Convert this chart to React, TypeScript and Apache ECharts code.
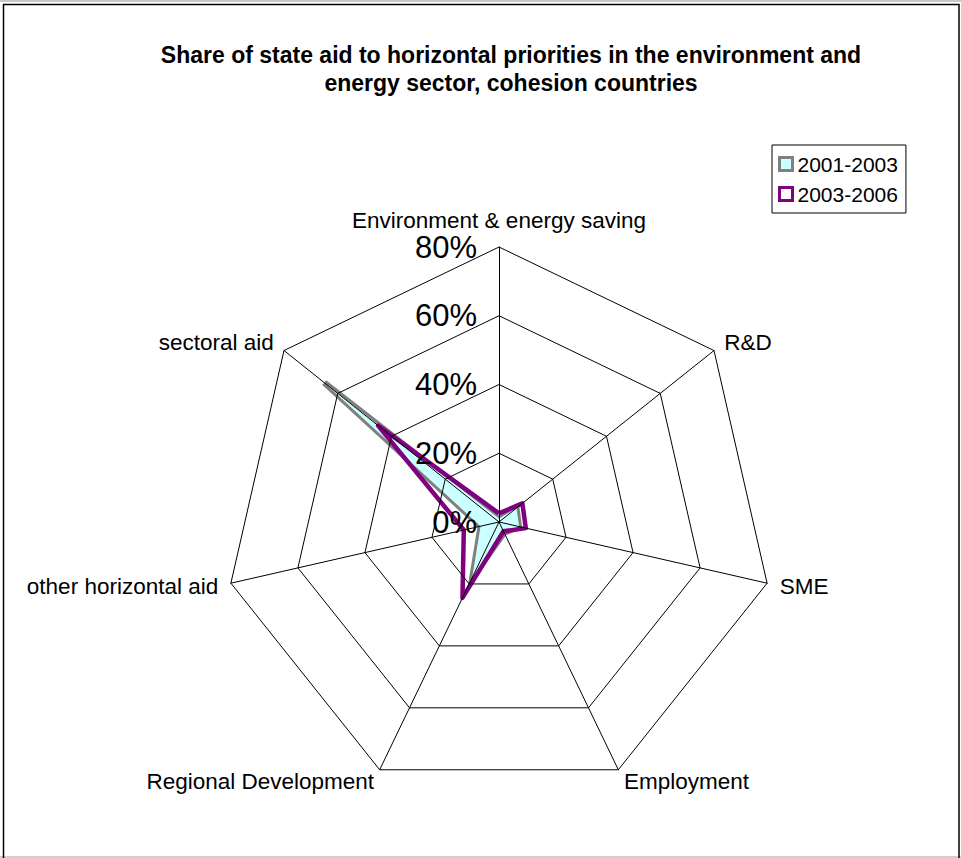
import React, { useEffect, useRef } from "react";
import * as echarts from "echarts";

const TITLE = "Share of state aid to horizontal priorities in the environment and\nenergy sector, cohesion countries";

// Categories in clockwise order starting at the top
const categories = [
  "Environment & energy saving",
  "R&D",
  "SME",
  "Employment",
  "Regional Development",
  "other horizontal aid",
  "sectoral aid",
];

const seriesNames = ["2001-2003", "2003-2006"];
const values2001_2003 = [1, 6.5, 6, 3.5, 18, 5.5, 65];
const values2003_2006 = [2.5, 8.7, 8, 3, 24.5, 10.5, 45];

const axisMax = 80;
const axisSplits = 4;

const FONT = "'Liberation Sans', Arial, sans-serif";

// ECharts lays indicators out counter-clockwise; reorder to get clockwise
const ccwOrder = (arr: any[]) => [arr[0], ...arr.slice(1).reverse()];

export default function App() {
  const ref = useRef<HTMLDivElement>(null);

  useEffect(() => {
    if (!ref.current) return;
    const chart = echarts.init(ref.current, undefined, { renderer: "svg" });

    const indicators = ccwOrder(categories).map((name: string, i: number) => {
      const ind: any = { name, min: 0, max: axisMax };
      if (i === 0) {
        ind.axisLabel = {
          show: true,
          formatter: "{value}%",
          color: "#000",
          fontSize: 31,
          fontFamily: FONT,
          margin: 22,
        };
      }
      return ind;
    });

    chart.setOption({
      animation: false,
      backgroundColor: "#fff",
      title: {
        text: TITLE,
        left: 506,
        top: 36,
        textAlign: "center",
        textStyle: {
          fontFamily: FONT,
          fontWeight: "bold",
          fontSize: 23,
          lineHeight: 28,
          color: "#000",
        },
      },
      legend: {
        orient: "vertical",
        left: 772,
        top: 145,
        padding: [8, 8, 8, 6],
        itemGap: 8,
        itemWidth: 13,
        itemHeight: 13,
        icon: "rect",
        backgroundColor: "#fff",
        borderColor: "#000",
        borderWidth: 1,
        borderRadius: 0,
        textStyle: { fontFamily: FONT, fontSize: 21, lineHeight: 22, color: "#000" },
        data: [
          {
            name: seriesNames[0],
            itemStyle: { color: "#CCFFFF", borderColor: "#808080", borderWidth: 3 },
          },
          {
            name: seriesNames[1],
            itemStyle: { color: "#FFFFFF", borderColor: "#800080", borderWidth: 3 },
          },
        ],
      },
      radar: {
        center: [499, 522],
        radius: 275,
        startAngle: 90,
        shape: "polygon",
        splitNumber: axisSplits,
        nameGap: 13,
        z: 5,
        axisName: { color: "#000", fontSize: 22.5, fontFamily: FONT },
        axisLine: { show: true, lineStyle: { color: "#000", width: 1 } },
        splitLine: { show: true, lineStyle: { color: "#000", width: 1 } },
        splitArea: { show: false },
        axisTick: { show: false },
        axisLabel: { show: false },
        indicator: indicators,
      },
      series: [
        {
          type: "radar",
          z: 1,
          symbol: "none",
          data: [
            {
              name: seriesNames[0],
              value: ccwOrder(values2001_2003),
              lineStyle: { color: "#808080", width: 6, join: "miter", miterLimit: 6 },
              areaStyle: { color: "#CCFFFF", opacity: 1 },
              itemStyle: { color: "#CCFFFF", borderColor: "#808080" },
            },
            {
              name: seriesNames[1],
              value: ccwOrder(values2003_2006),
              lineStyle: { color: "#800080", width: 4.5 },
              itemStyle: { color: "#FFFFFF", borderColor: "#800080" },
            },
          ],
        },
      ],
      graphic: [
        {
          type: "line",
          shape: { x1: 0, y1: 1, x2: 961, y2: 1 },
          style: { stroke: "#c8c8c8", lineWidth: 2 },
        },
        {
          type: "line",
          shape: { x1: 0, y1: 857, x2: 961, y2: 857 },
          style: { stroke: "#d0d0d0", lineWidth: 2 },
        },
        {
          type: "rect",
          shape: { x: 3.5, y: 4.5, width: 955.5, height: 870 },
          style: { fill: "none", stroke: "#000", lineWidth: 1.5 },
          silent: true,
        },
      ],
    });

    return () => chart.dispose();
  }, []);

  return (
    <div
      ref={ref}
      style={{ position: "absolute", left: 0, top: 0, width: 961, height: 858, background: "#fff" }}
    />
  );
}
